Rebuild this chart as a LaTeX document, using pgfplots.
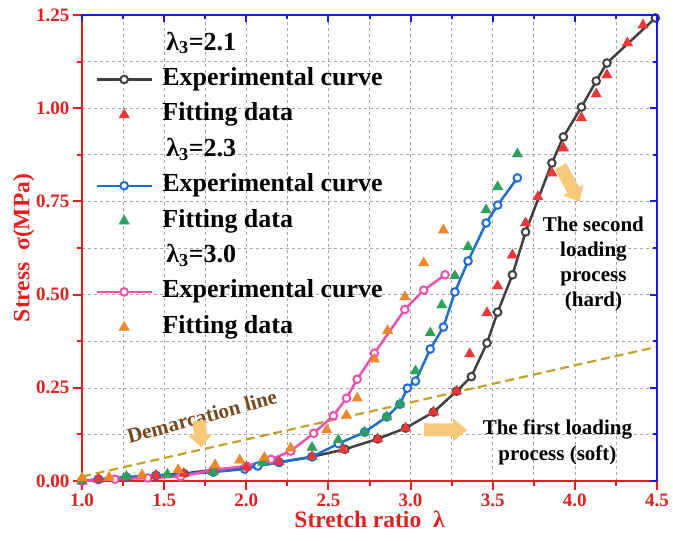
\documentclass[border=0pt]{standalone}
\usepackage{fontspec}
\setmainfont{Liberation Serif}
\usepackage{pgfplots}
\pgfplotsset{compat=1.18}
\definecolor{axred}{RGB}{230,30,30}
\definecolor{axblue}{RGB}{25,25,225}
\definecolor{cblack}{RGB}{64,64,64}
\definecolor{cblue}{RGB}{30,110,210}
\definecolor{cpink}{RGB}{240,80,175}
\definecolor{tred}{RGB}{235,55,55}
\definecolor{tgreen}{RGB}{45,160,90}
\definecolor{torange}{RGB}{240,135,40}
\definecolor{demline}{RGB}{195,160,40}
\definecolor{arrowfill}{RGB}{247,200,120}
\definecolor{dbrown}{RGB}{120,72,30}
\definecolor{gridgray}{RGB}{165,165,165}
\pgfplotsset{legend image code/.code={\draw[mark repeat=2,mark phase=2,#1] plot coordinates {(0pt,0pt) (27pt,0pt) (55pt,0pt)};}}
\begin{document}
\begin{tikzpicture}
\begin{axis}[
  scale only axis, width=575pt, height=466pt,
  xmin=1, xmax=4.5, ymin=0, ymax=1.25,
  axis x line=bottom, axis y line=left,
  axis line style={-, axred, line width=2.4pt},
  xtick={1,1.5,2,2.5,3,3.5,4,4.5}, ytick={0,0.25,0.5,0.75,1,1.25},
  minor tick num=1,
  tick align=outside, major tick length=9pt, minor tick length=5pt,
  tick style={axred, line width=2pt}, minor tick style={axred, line width=2pt},
  grid=both, major grid style={gridgray, dashed, line width=0.6pt}, minor grid style={gridgray, dashed, line width=0.6pt},
  ticklabel style={font=\bfseries\fontsize{19}{21}\selectfont, text=axred},
  /pgf/number format/assume math mode=true,
  xticklabel style={/pgf/number format/fixed, /pgf/number format/fixed zerofill, /pgf/number format/precision=1},
  yticklabel style={/pgf/number format/fixed, /pgf/number format/fixed zerofill, /pgf/number format/precision=2},
  xlabel={Stretch ratio~~λ}, ylabel={Stress~~σ(MPa)},
  label style={font=\bfseries\fontsize{23.5}{25}\selectfont, text=axred},
  xlabel style={yshift=2pt}, ylabel style={yshift=-5pt},
  legend cell align=left,
  legend style={draw=none, fill=none, at={(0.024,0.968)}, anchor=north west,
    font=\bfseries\fontsize{26}{28}\selectfont, row sep=7.4pt, inner sep=0pt,
    nodes={inner sep=2pt, text height=18pt, text depth=6pt},
    /tikz/every odd column/.append style={column sep=7pt}},
]
% legend entries
\addlegendimage{empty legend}\addlegendentry{\hspace{4pt}λ\textsubscript{3}=2.1}
\addlegendimage{cblack, line width=2.4pt, mark=*, mark size=3.8pt, mark options={fill=white, line width=2pt}}\addlegendentry{Experimental curve}
\addlegendimage{only marks, mark=triangle*, mark size=6pt, tred}\addlegendentry{Fitting data}
\addlegendimage{empty legend}\addlegendentry{\hspace{4pt}λ\textsubscript{3}=2.3}
\addlegendimage{cblue, line width=2.4pt, mark=*, mark size=3.8pt, mark options={fill=white, line width=2pt}}\addlegendentry{Experimental curve}
\addlegendimage{only marks, mark=triangle*, mark size=6pt, tgreen}\addlegendentry{Fitting data}
\addlegendimage{empty legend}\addlegendentry{\hspace{4pt}λ\textsubscript{3}=3.0}
\addlegendimage{cpink, line width=2.4pt, mark=*, mark size=3.8pt, mark options={fill=white, line width=2pt}}\addlegendentry{Experimental curve}
\addlegendimage{only marks, mark=triangle*, mark size=6pt, torange}\addlegendentry{Fitting data}

% demarcation line
\addplot[forget plot, demline, line width=2.2pt, dash pattern=on 9pt off 5pt] coordinates {(1.0,0.012) (4.5,0.36)};

% lambda3 = 2.1
\addplot[forget plot, cblack, line width=2.5pt, mark=*, mark size=3.8pt, mark options={fill=white, line width=2pt}] coordinates {
(1.0,0.0)(1.1,0.005)(1.27,0.01)(1.45,0.015)(1.62,0.02)(1.8,0.03)(2.0,0.037)(2.2,0.05)(2.4,0.065)(2.6,0.085)(2.8,0.113)(2.97,0.142)(3.14,0.185)(3.28,0.241)(3.37,0.28)(3.465,0.37)(3.53,0.453)(3.62,0.553)(3.70,0.668)(3.86,0.853)(3.93,0.923)(4.04,1.003)(4.13,1.073)(4.195,1.121)(4.49,1.242)};
% lambda3 = 2.3
\addplot[forget plot, cblue, line width=2.5pt, mark=*, mark size=3.8pt, mark options={fill=white, line width=2pt}] coordinates {
(1.0,0.0)(1.1,0.004)(1.27,0.01)(1.45,0.014)(1.6,0.018)(1.8,0.024)(1.99,0.032)(2.07,0.04)(2.2,0.05)(2.4,0.065)(2.56,0.1)(2.72,0.131)(2.855,0.172)(2.935,0.206)(2.98,0.249)(3.03,0.268)(3.12,0.354)(3.20,0.413)(3.27,0.507)(3.35,0.590)(3.46,0.692)(3.53,0.74)(3.65,0.813)};
% lambda3 = 3.0
\addplot[forget plot, cpink, line width=2.5pt, mark=*, mark size=3.8pt, mark options={fill=white, line width=2pt}] coordinates {
(1.0,0.0)(1.2,0.005)(1.4,0.008)(1.6,0.012)(1.8,0.03)(2.0,0.04)(2.15,0.058)(2.27,0.08)(2.41,0.128)(2.53,0.175)(2.61,0.222)(2.675,0.273)(2.78,0.343)(2.965,0.46)(3.08,0.512)(3.21,0.553)};

% fitting data
\addplot[forget plot, only marks, mark=triangle*, mark size=6pt, tred] coordinates {
(1.0,0.0)(1.1,0.005)(1.27,0.01)(1.45,0.015)(1.62,0.02)(1.8,0.03)(2.0,0.037)(2.2,0.051)(2.4,0.065)(2.59,0.085)(2.80,0.113)(2.97,0.142)(3.14,0.185)(3.28,0.241)(3.36,0.341)(3.465,0.451)(3.53,0.523)(3.62,0.606)(3.70,0.692)(3.775,0.762)(3.86,0.826)(3.93,0.893)(4.04,0.974)(4.13,1.038)(4.195,1.089)(4.32,1.175)(4.415,1.223)};
\addplot[forget plot, only marks, mark=triangle*, mark size=6pt, tgreen] coordinates {
(1.0,0.0)(1.27,0.012)(1.52,0.018)(1.8,0.025)(2.1,0.05)(2.4,0.09)(2.56,0.11)(2.72,0.131)(2.855,0.172)(2.935,0.206)(3.03,0.295)(3.12,0.397)(3.19,0.472)(3.27,0.55)(3.35,0.628)(3.46,0.727)(3.53,0.789)(3.65,0.877)};
\addplot[forget plot, only marks, mark=triangle*, mark size=6pt, torange] coordinates {
(1.0,0.008)(1.165,0.01)(1.365,0.016)(1.585,0.03)(1.81,0.043)(1.96,0.056)(2.11,0.063)(2.27,0.088)(2.49,0.137)(2.61,0.176)(2.675,0.222)(2.78,0.327)(2.86,0.403)(2.965,0.494)(3.08,0.585)(3.20,0.673)};

% annotations
\node[rotate=15, text=dbrown, font=\bfseries\fontsize{21}{23}\selectfont] at (axis cs:1.73,0.173) {Demarcation line};
\fill[arrowfill, shift={(axis cs:1.72,0.127)}, rotate=-85] (-13pt,-6.5pt) -- (1pt,-6.5pt) -- (1pt,-12pt) -- (14pt,0pt) -- (1pt,12pt) -- (1pt,6.5pt) -- (-13pt,6.5pt) -- cycle;
\fill[arrowfill, shift={(axis cs:3.21,0.137)}] (-21pt,-6.5pt) -- (8pt,-6.5pt) -- (8pt,-11.5pt) -- (22pt,0pt) -- (8pt,11.5pt) -- (8pt,6.5pt) -- (-21pt,6.5pt) -- cycle;
\fill[arrowfill, shift={(axis cs:3.97,0.797)}, rotate=-62] (-20pt,-6.5pt) -- (7pt,-6.5pt) -- (7pt,-11.5pt) -- (20pt,0pt) -- (7pt,11.5pt) -- (7pt,6.5pt) -- (-20pt,6.5pt) -- cycle;
\node[align=center, font=\bfseries\fontsize{21}{26}\selectfont] at (axis cs:3.894,0.105) {The first loading\\process (soft)};
\node[align=center, font=\bfseries\fontsize{21}{25}\selectfont] at (axis cs:4.113,0.582) {The second\\loading\\process\\(hard)};
\coordinate (SW) at (rel axis cs:0,0);
\coordinate (NE) at (rel axis cs:1,1);
\end{axis}
\begin{axis}[
  scale only axis, width=575pt, height=466pt,
  xmin=1, xmax=4.5, ymin=0, ymax=1.25,
  axis x line=top, axis y line=right,
  axis line style={-, axblue, line width=2.4pt},
  xtick={1,1.5,2,2.5,3,3.5,4,4.5}, ytick={0,0.25,0.5,0.75,1,1.25},
  minor tick num=1,
  tick align=inside, major tick length=7pt, minor tick length=4pt,
  tick style={axblue, line width=2pt}, minor tick style={axblue, line width=2pt},
  xticklabels={}, yticklabels={},
]
\end{axis}
\pgfresetboundingbox
\path ([shift={(-82pt,-59pt)}]SW) rectangle ([shift={(16pt,15pt)}]NE);
\end{tikzpicture}
\end{document}
